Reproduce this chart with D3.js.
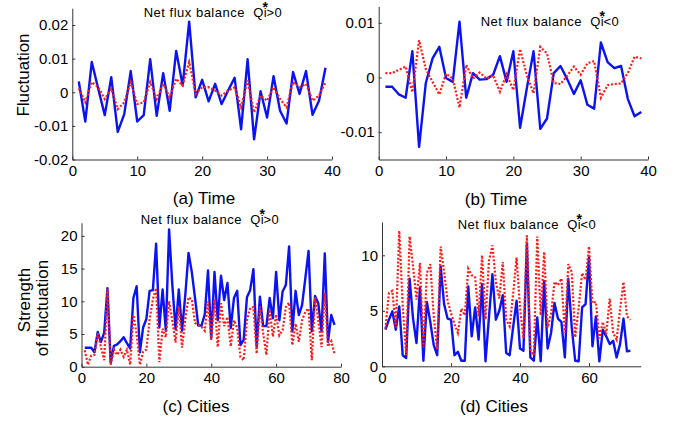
<!DOCTYPE html>
<html><head><meta charset="utf-8">
<script src="https://cdn.jsdelivr.net/npm/d3@7"></script>
<style>body{margin:0;background:#fff}svg{display:block}</style>
</head><body>
<svg id="chart" width="684" height="422"></svg>
<script>
// ---------- data ----------
const timeSteps = d3.range(1, 40);
const blueA = [0.0032,-0.0087,0.009,0.001,-0.0068,0.0045,-0.0118,-0.0065,0.0063,-0.0087,-0.0068,0.0098,-0.007,0.0057,-0.0055,0.0123,0.002,0.021,-0.0015,0.0037,-0.0027,0.0025,-0.0035,0.0005,0.0043,-0.011,0.0098,-0.014,0.0003,-0.0075,0.0048,-0.0055,-0.0093,0.006,-0.0005,0.0063,-0.0067,-0.0025,0.0073];
const redA = [0.0012,-0.003,0.003,0.0015,-0.002,0.001,-0.005,-0.003,0.003,-0.0035,-0.003,0.003,-0.002,0.0025,-0.0015,0.004,0.002,0.009,-0.0005,0.0015,0.0015,0.0005,-0.001,0.0005,0.0015,-0.0045,0.0035,-0.006,-0.001,-0.0025,0.0015,-0.002,-0.0045,0.003,0.0015,0.0025,-0.0025,-0.001,0.003];
const blueB = [-0.0017,-0.0017,-0.0031,-0.0037,0.0048,-0.0127,-0.001,0.0035,0.0056,-0.0001,-0.0008,0.0102,-0.0037,0.0008,-0.0004,-0.0003,0.0005,0.0039,-0.0008,0.0048,-0.0092,-0.002,0.0048,-0.0094,-0.0075,0.0008,0.0021,-0.0003,-0.003,-0.0005,-0.005,-0.0057,0.0064,0.0028,0.0017,0.0021,-0.0039,-0.0071,-0.0063];
const redB = [0.0008,0.0008,0.0014,0.002,-0.0027,0.0068,0.0015,-0.0008,-0.0031,0.0007,-0.0002,-0.0055,0.0023,-0.0002,0.0009,-0.0002,0.0004,-0.0026,0.0006,-0.0023,0.0052,0.0004,-0.0029,0.0056,0.0044,-0.001,-0.0012,0.0003,0.002,0.0005,0.0026,0.003,-0.0037,-0.0014,-0.0012,-0.0011,0.0008,0.0038,0.0035];
const citiesC = d3.range(1, 79);
const blueC = [2.9,2.9,2.9,2.2,5.3,3.8,5.2,12.0,0.6,3.2,3.4,3.9,4.5,3.6,2.8,10.5,12.3,2.2,6.0,7.3,11.6,11.7,18.8,6.0,11.8,5.5,21.0,12.5,5.7,11.8,5.5,11.0,17.4,14.5,10.5,6.3,6.3,8.0,14.7,4.4,14.5,7.1,13.9,10.2,12.8,5.9,10.5,11.6,3.3,4.1,10.6,11.7,14.9,3.1,10.7,6.2,6.2,10.5,7.4,14.5,7.1,11.5,12.5,18.4,5.4,11.6,7.9,9.4,13.5,17.7,5.4,10.8,9.7,5.4,17.3,3.8,7.9,6.4];
const redC = [2.5,0.3,1.7,1.8,5.1,3.0,1.0,11.9,0.3,2.6,1.8,2.6,1.5,2.6,0.3,7.9,5.0,0.3,2.3,2.6,7.2,10.3,12.0,0.7,5.8,4.5,10.0,7.0,3.7,9.2,2.9,7.3,10.6,10.3,6.7,6.4,6.1,5.5,10.0,4.1,10.3,3.0,9.7,6.2,7.6,3.1,7.1,5.9,1.5,1.0,7.1,9.0,9.1,2.0,9.2,5.1,1.8,8.7,4.6,8.0,4.8,5.6,9.1,9.8,3.3,6.6,3.8,7.1,8.4,8.9,1.0,10.6,7.1,3.0,11.3,3.1,3.9,2.0];
const citiesD = d3.range(1, 73);
const blueD = [3.3,4.2,4.95,3.3,5.4,1.0,0.75,7.9,4.3,2.1,7.1,0.5,5.8,4.0,1.9,1.0,9.0,5.6,4.3,4.2,1.0,1.3,0.5,0.5,7.2,2.7,5.3,2.4,7.4,0.45,4.4,8.3,4.2,5.0,6.4,1.2,1.0,3.5,5.9,1.6,1.4,11.1,0.8,0.5,4.4,0.45,7.7,1.6,3.0,5.7,4.3,4.0,0.8,7.9,3.5,0.5,0.45,5.3,5.6,9.8,1.8,4.5,0.45,3.3,2.7,2.0,2.3,0.8,2.0,4.3,1.35,1.4];
const redD = [3.4,6.6,6.8,3.5,12.2,5.5,1.0,11.7,9.0,6.0,9.3,1.7,8.4,9.2,4.5,1.5,10.8,8.5,5.9,4.8,3.8,3.0,5.2,4.6,8.8,8.2,8.0,4.5,10.0,4.2,9.5,10.9,7.6,6.1,9.4,4.2,3.6,6.5,9.8,5.3,2.5,11.8,1.5,1.0,11.7,4.6,10.3,3.5,4.7,7.6,7.3,7.9,3.0,9.2,8.5,2.6,5.3,8.4,7.8,10.8,5.7,5.8,2.5,4.0,2.9,6.1,3.0,2.4,5.1,7.6,4.5,4.2];

const ticksTime = [0, 10, 20, 30, 40];
const ticksCities = [0, 20, 40, 60, 80];
const ticksCitiesD = [0, 20, 40, 60];
const yTicksA = [-0.02, -0.01, 0, 0.01, 0.02];
const yTicksB = [-0.01, 0, 0.01];
const yTicksC = [0, 5, 10, 15, 20];
const yTicksD = [0, 5, 10];
const titlePrefix = "Net flux balance  Qi";
const titleStar = "*";
const titleSuffixes = [">0", "<0", ">0", "<0"];
const xLabels = ["(a) Time", "(b) Time", "(c) Cities", "(d) Cities"];

// ---------- drawing ----------
const svg = d3.select("#chart");
const FONT = "'Liberation Sans', Arial, sans-serif";

const panels = [
  {xs: timeSteps, blue: blueA, red: redA, xDom: [0, 40], yDom: [-0.02, 0.025], xT: ticksTime, yT: yTicksA,
   L: 72.3, R: 332, B: 159.5, T: 8.2, title: [213, 16.7], xl: [204, 204], si: 0},
  {xs: timeSteps, blue: blueB, red: redB, xDom: [0, 40], yDom: [-0.015, 0.013], xT: ticksTime, yT: yTicksB,
   L: 378.7, R: 648, B: 159.5, T: 6.4, title: [550, 26], xl: [496, 205], si: 1},
  {xs: citiesC, blue: blueC, red: redC, xDom: [0, 80], yDom: [0, 22], xT: ticksCities, yT: yTicksC,
   L: 81.5, R: 341, B: 366.7, T: 222.8, title: [210, 223.7], xl: [196, 412], si: 2},
  {xs: citiesD, blue: blueD, red: redD, xDom: [0, 75], yDom: [0, 13], xT: ticksCitiesD, yT: yTicksD,
   L: 382, R: 640.75, B: 366.3, T: 222, title: [527, 229], xl: [494, 412], si: 3}
];

panels.forEach(p => {
  const x = d3.scaleLinear().domain(p.xDom).range([p.L, p.R]);
  const y = d3.scaleLinear().domain(p.yDom).range([p.B, p.T]);
  const g = svg.append("g");

  const line = d3.line().x((d, i) => x(p.xs[i])).y(d => y(d));
  g.append("path").datum(p.blue).attr("d", line)
    .attr("fill", "none").attr("stroke", "#0a14f0").attr("stroke-width", 2.4)
    .attr("stroke-linejoin", "round");
  g.append("path").datum(p.red).attr("d", line)
    .attr("fill", "none").attr("stroke", "#ff1a1a").attr("stroke-width", 2.2)
    .attr("stroke-dasharray", "2,1.8");

  const xa = g.append("g").attr("transform", `translate(0,${p.B})`)
    .call(d3.axisBottom(x).tickValues(p.xT).tickSizeInner(-3).tickSizeOuter(0).tickPadding(6).tickFormat(d => String(d)));
  const ya = g.append("g").attr("transform", `translate(${p.L},0)`)
    .call(d3.axisLeft(y).tickValues(p.yT).tickSizeInner(-3).tickSizeOuter(0).tickPadding(4).tickFormat(d => String(d)));
  [xa, ya].forEach(a => {
    a.select(".domain").attr("stroke", "#333");
    a.selectAll(".tick line").attr("stroke", "#333");
    a.selectAll("text").attr("font-family", FONT).attr("font-size", 15).attr("fill", "#000");
  });

  // title with the star placed above the "i"
  const t = svg.append("text").attr("x", p.title[0]).attr("y", p.title[1])
    .attr("text-anchor", "middle").attr("font-family", FONT).attr("font-size", 13)
    .attr("letter-spacing", 0.5).attr("fill", "#000")
    .style("white-space", "pre");
  t.append("tspan").text(titlePrefix);
  t.append("tspan").attr("dx", -4.6).attr("dy", -5).attr("font-size", 14)
    .attr("font-weight", "bold").attr("letter-spacing", 0).text(titleStar);
  t.append("tspan").attr("dx", -1.6).attr("dy", 5).text(titleSuffixes[p.si]);

  // x label
  svg.append("text").attr("x", p.xl[0]).attr("y", p.xl[1]).attr("text-anchor", "middle")
    .attr("font-family", FONT).attr("font-size", 17).attr("fill", "#000").text(xLabels[p.si]);
});

// y labels
svg.append("text").attr("transform", "translate(29,75) rotate(-90)").attr("text-anchor", "middle")
  .attr("font-family", FONT).attr("font-size", 17).attr("fill", "#000").text("Fluctuation");
svg.append("text").attr("transform", "translate(30,300) rotate(-90)").attr("text-anchor", "middle")
  .attr("font-family", FONT).attr("font-size", 17).attr("fill", "#000").text("Strength");
svg.append("text").attr("transform", "translate(48,308) rotate(-90)").attr("text-anchor", "middle")
  .attr("font-family", FONT).attr("font-size", 17).attr("fill", "#000").text("of fluctuation");
</script>
</body></html>
